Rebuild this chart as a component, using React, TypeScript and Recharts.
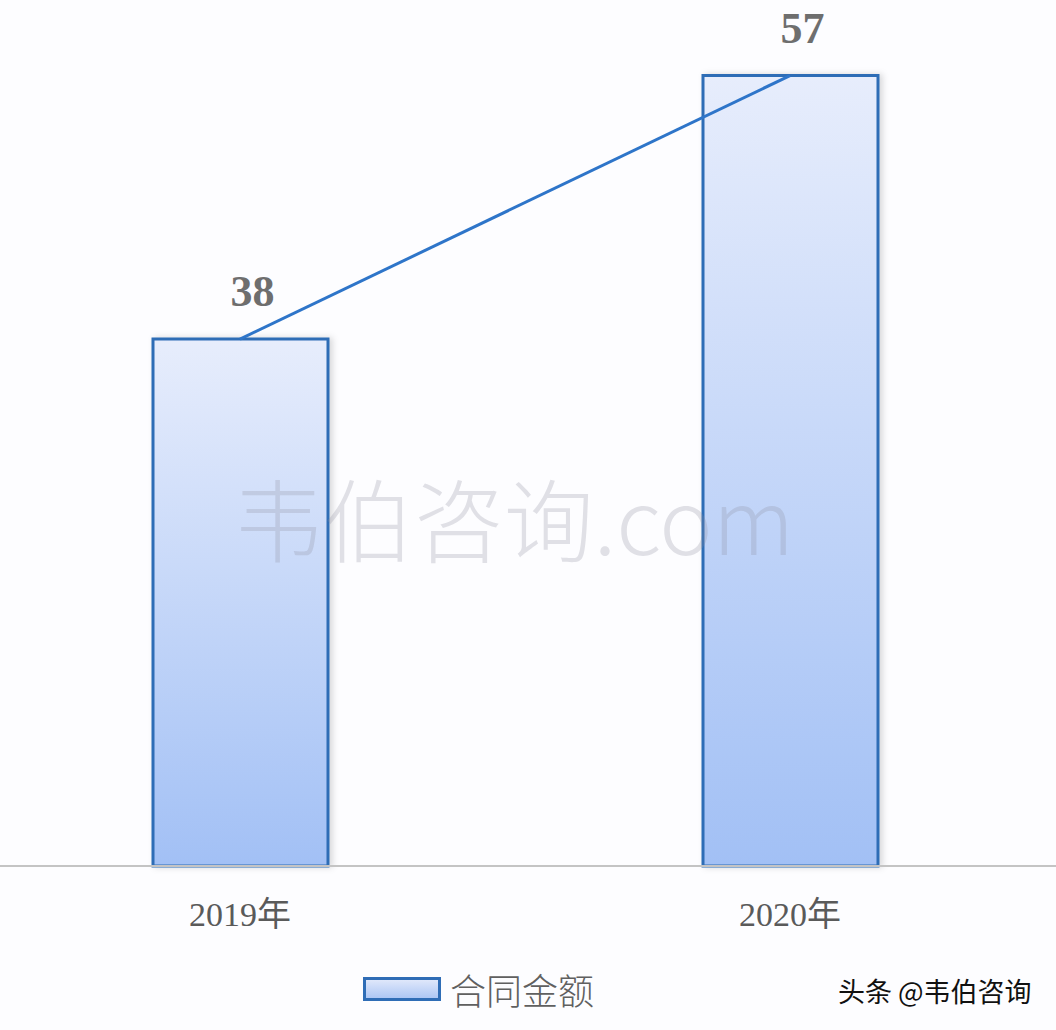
import React from 'react'
import { BarChart, Bar, Line, XAxis, YAxis, Legend, LabelList } from 'recharts'

const years = ['2019年', '2020年']
const contractAmount = [38, 57]
const seriesName = '合同金额'

const data = years.map((year, i) => ({ year, amount: contractAmount[i] }))

const BLUE = '#2f6db6'

function LegendContent(props: any) {
  const items = (props.payload || []).filter((p: any) => p.type !== 'none')
  return (
    <div style={{ display: 'flex', alignItems: 'center' }}>
      {items.map((it: any) => (
        <div key={it.value} style={{ display: 'flex', alignItems: 'center' }}>
          <svg width={78} height={24} style={{ display: 'block' }}>
            <defs>
              <linearGradient id="legendFill" x1="0" y1="0" x2="0" y2="1">
                <stop offset="0%" stopColor="#e3eafb" />
                <stop offset="100%" stopColor="#a9c4f4" />
              </linearGradient>
            </defs>
            <rect x={1.5} y={1.5} width={75} height={21} fill="url(#legendFill)" stroke={BLUE} strokeWidth={3} />
          </svg>
          <span
            style={{
              marginLeft: 9,
              fontFamily: '"Noto Sans CJK SC", sans-serif',
              fontWeight: 300,
              fontSize: 36,
              color: '#606060',
              lineHeight: 1,
            }}
          >
            {it.value}
          </span>
        </div>
      ))}
    </div>
  )
}

export default function App() {
  return (
    <div
      style={{
        position: 'absolute',
        left: 0,
        top: 0,
        width: 1056,
        height: 1030,
        overflow: 'hidden',
        background: '#fdfdff',
      }}
    >
      <div style={{ position: 'absolute', left: -35, top: 0 }}>
        <BarChart width={1100} height={1030} data={data} margin={{ top: 34, right: 0, bottom: 104, left: 0 }}>
          <defs>
            <linearGradient id="barFill" x1="0" y1="0" x2="0" y2="1">
              <stop offset="0%" stopColor="#e7edfc" />
              <stop offset="100%" stopColor="#a2c0f5" />
            </linearGradient>
            <filter id="barShadow" x="-10%" y="-10%" width="130%" height="120%">
              <feDropShadow dx={3} dy={0} stdDeviation={3} floodColor="#000" floodOpacity={0.15} />
            </filter>
          </defs>
          <XAxis
            dataKey="year"
            axisLine={{ stroke: '#c4c4c4', strokeWidth: 2 }}
            tickLine={false}
            tickSize={0}
            tickMargin={36}
            height={60}
            interval={0}
            tick={{ fill: '#5a5a5a', fontSize: 34, fontFamily: '"Liberation Serif", "Noto Sans CJK SC", serif' }}
          />
          <YAxis hide domain={[0, 60]} />
          <Legend
            verticalAlign="middle"
            align="center"
            layout="horizontal"
            content={<LegendContent />}
            wrapperStyle={{ top: 971, left: 398, width: 'auto' }}
          />
          <Bar
            dataKey="amount"
            name={seriesName}
            barSize={175}
            fill="url(#barFill)"
            stroke={BLUE}
            strokeWidth={3}
            filter="url(#barShadow)"
            isAnimationActive={false}
          >
            <LabelList
              dataKey="amount"
              position="top"
              offset={33}
              dx={12}
              fill="#6e6e6e"
              fontSize={44}
              fontWeight="bold"
              fontFamily='"Liberation Serif", Georgia, serif'
            />
          </Bar>
          <Line
            type="linear"
            dataKey="amount"
            stroke="#2e75c9"
            strokeWidth={3}
            dot={false}
            activeDot={false}
            legendType="none"
            isAnimationActive={false}
          />
        </BarChart>
      </div>
      <div
        style={{
          position: 'absolute',
          left: 0,
          width: 1028,
          top: 466,
          textAlign: 'center',
          fontFamily: '"Noto Sans CJK SC", sans-serif',
          fontWeight: 300,
          fontSize: 90,
          lineHeight: '100px',
          color: 'rgba(140,140,155,0.25)',
          pointerEvents: 'none',
          whiteSpace: 'nowrap',
        }}
      >
        韦伯咨询.com
      </div>
      <div
        style={{
          position: 'absolute',
          left: 838,
          top: 973,
          fontFamily: '"Noto Sans CJK SC", sans-serif',
          fontSize: 27,
          lineHeight: '36px',
          color: '#111',
          textShadow: '0 0 3px #fff, 0 0 2px #fff',
          whiteSpace: 'nowrap',
        }}
      >
        头条 @韦伯咨询
      </div>
    </div>
  )
}
